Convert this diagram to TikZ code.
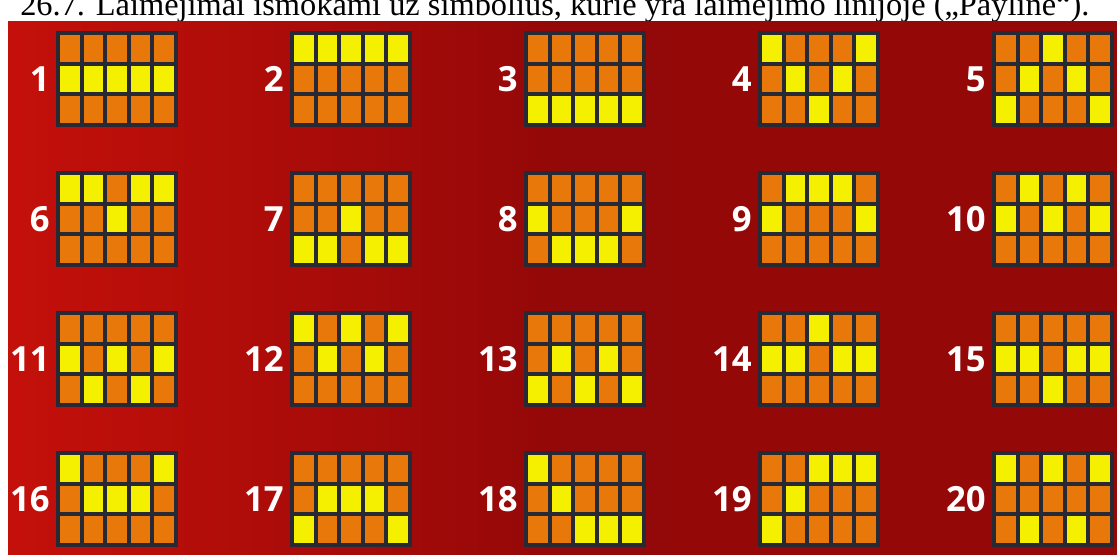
\documentclass[tikz,border=0pt]{standalone}
\usepackage{fontspec}
\setmainfont{Liberation Serif}
\newfontfamily\numfont{Open Sans}
\usetikzlibrary{positioning}
\definecolor{lineorange}{HTML}{E8780A}
\definecolor{lineyellow}{HTML}{F4F000}
\definecolor{framedark}{HTML}{272A35}
\definecolor{redlight}{HTML}{C4100A}
\definecolor{reddark}{HTML}{930808}
\tikzset{
  board/.style  = {fill = framedark, draw = none, inner sep = 0pt,
                   minimum width = 91.5pt, minimum height = 72pt, anchor = north west},
  lineno/.style = {text = white, inner sep = 0pt,
                   font = \numfont\bfseries\fontsize{26}{26}\selectfont},
  title/.style  = {inner sep = 0pt, anchor = base west,
                   font = \fontsize{24.3}{25}\selectfont}
}

\begin{document}
\begin{tikzpicture}[x=0.75pt, y=-0.75pt]
  \useasboundingbox (0,0) rectangle (1117,554);
  \clip (0,0) rectangle (1117,554);

  % heading, cut at the top
  \node[title] (head) at (20,15.5)
    {26.7. Laimėjimai išmokami už simbolius, kurie yra laimėjimo linijoje („Payline“).};

  % red background
  \fill[left color = redlight, right color = reddark!95!redlight,
        middle color = reddark] (8,21) rectangle (1117,554);

  % the 20 paylines, row of the hit cell per reel
  \foreach \n/\pa/\pb/\pc/\pd/\pe in {
      1/1/1/1/1/1,   2/0/0/0/0/0,   3/2/2/2/2/2,   4/0/1/2/1/0,   5/2/1/0/1/2,
      6/0/0/1/0/0,   7/2/2/1/2/2,   8/1/2/2/2/1,   9/1/0/0/0/1,  10/1/0/1/0/1,
     11/1/2/1/2/1,  12/0/1/0/1/0,  13/2/1/2/1/2,  14/1/1/0/1/1,  15/1/1/2/1/1,
     16/0/1/1/1/0,  17/2/1/1/1/2,  18/0/1/2/2/2,  19/2/1/0/0/0,  20/0/2/0/2/0}
  {
    \pgfmathtruncatemacro\gc{mod(\n-1,5)}
    \pgfmathtruncatemacro\gr{div(\n-1,5)}
    \node[board] (g\n) at (56+234*\gc, 31+140*\gr) {};
    \node[lineno, left=4.5pt of g\n] (n\n) {\n};
    \begin{scope}[shift={(g\n.north west)}]
      \foreach \p [count=\c from 0] in {\pa,\pb,\pc,\pd,\pe}
        \foreach \r in {0,1,2} {
          \ifnum\r=\p\relax\def\cellcol{lineyellow}\else\def\cellcol{lineorange}\fi
          \fill[\cellcol] (4+23.6*\c, 4+30.67*\r) rectangle ++(19.6,26.67);
        }
    \end{scope}
  }
\end{tikzpicture}
\end{document}
